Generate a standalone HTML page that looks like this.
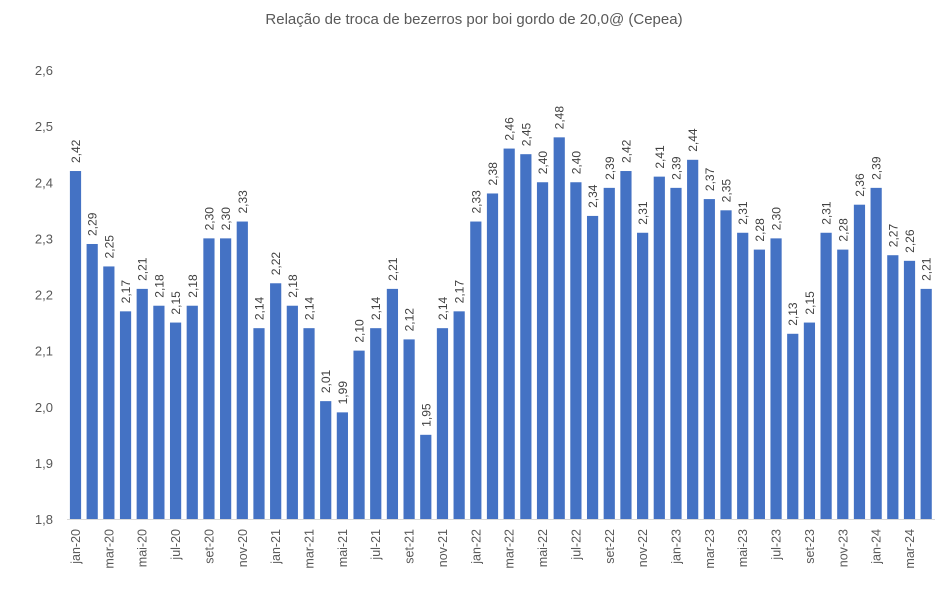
<!DOCTYPE html>
<html><head><meta charset="utf-8"><style>
html,body{margin:0;padding:0;background:#fff;}
svg{display:block;font-family:"Liberation Sans",sans-serif;}
</style></head><body>
<svg width="948" height="589" viewBox="0 0 948 589" xmlns="http://www.w3.org/2000/svg">
<text x="474" y="24" text-anchor="middle" font-size="15" fill="#595959">Relação de troca de bezerros por boi gordo de 20,0@ (Cepea)</text>
<g id="g"></g>
</svg>
<script>
const vals=[2.42,2.29,2.25,2.17,2.21,2.18,2.15,2.18,2.30,2.30,2.33,2.14,2.22,2.18,2.14,2.01,1.99,2.10,2.14,2.21,2.12,1.95,2.14,2.17,2.33,2.38,2.46,2.45,2.40,2.48,2.40,2.34,2.39,2.42,2.31,2.41,2.39,2.44,2.37,2.35,2.31,2.28,2.30,2.13,2.15,2.31,2.28,2.36,2.39,2.27,2.26,2.21];
const m=["jan","fev","mar","abr","mai","jun","jul","ago","set","out","nov","dez"];
const base=519,k=561.25,x0=75.5,st=16.68;
let s='';
for(let i=0;i<=8;i++){const v=1.8+i*0.1,y=base-i*56.125;
s+=`<text x="53" y="${y+5}" text-anchor="end" font-size="13" fill="#595959">${v.toFixed(1).replace('.',',')}</text>`;}
s+=`<line x1="67" y1="${base+0.5}" x2="935" y2="${base+0.5}" stroke="#d9d9d9" stroke-width="1"/>`;
vals.forEach((v,i)=>{const cx=x0+i*st,top=base-(v-1.8)*k;
s+=`<rect x="${cx-5.6}" y="${top}" width="11.2" height="${base-top}" fill="#4472c4"/>`;
s+=`<text transform="translate(${cx+4.5},${top-8}) rotate(-90)" font-size="12" fill="#404040">${v.toFixed(2).replace('.',',')}</text>`;
if(i%2==0){const yy=20+Math.floor(i/12);
s+=`<text transform="translate(${cx+4.5},529) rotate(-90)" text-anchor="end" font-size="12.5" fill="#595959">${m[i%12]}-${yy}</text>`;}
});
document.getElementById('g').innerHTML=s;
</script>
</body></html>
